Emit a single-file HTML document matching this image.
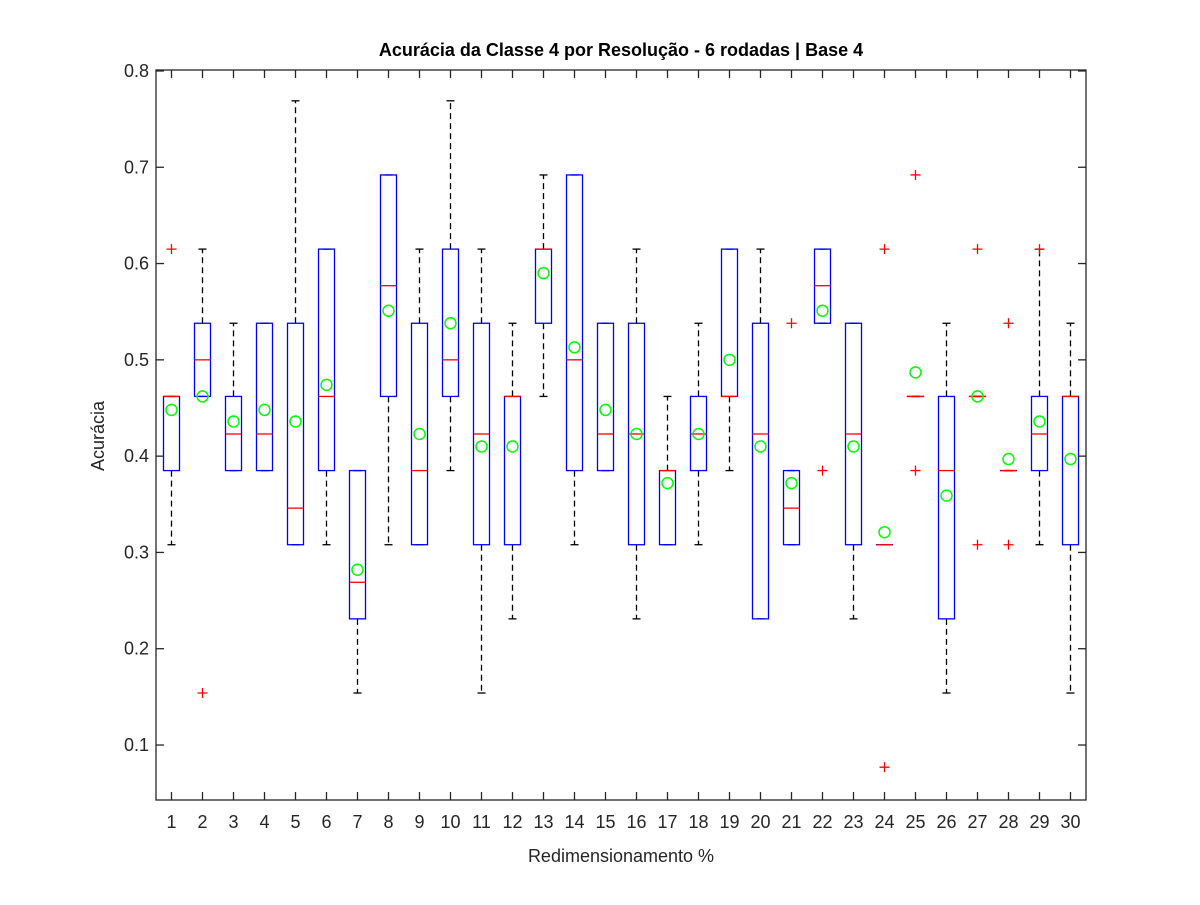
<!DOCTYPE html>
<html><head><meta charset="utf-8"><style>
body{margin:0;background:#fff;}
svg text{font-family:"Liberation Sans",Arial,sans-serif;}
</style></head><body>
<svg id="chart" width="1200" height="900" xmlns="http://www.w3.org/2000/svg">
<rect width="1200" height="900" fill="#fff"/>
<text x="621" y="56" font-size="18" font-weight="bold" text-anchor="middle" fill="#000">Acurácia da Classe 4 por Resolução - 6 rodadas | Base 4</text>
<text x="621" y="862" font-size="18" text-anchor="middle" fill="#262626">Redimensionamento %</text>
<text x="0" y="0" font-size="18" text-anchor="middle" fill="#262626" transform="translate(104,436) rotate(-90)">Acurácia</text>
<g id="marks"></g>
<g id="axes"></g>
</svg>
<script>
const categories=[1,2,3,4,5,6,7,8,9,10,11,12,13,14,15,16,17,18,19,20,21,22,23,24,25,26,27,28,29,30];
const q1=[.385,.462,.385,.385,.308,.385,.231,.462,.308,.462,.308,.308,.538,.385,.385,.308,.308,.385,.462,.231,.308,.538,.308,.308,.462,.231,.462,.385,.385,.308];
const q3=[.462,.538,.462,.538,.538,.615,.385,.692,.538,.615,.538,.462,.615,.692,.538,.538,.385,.462,.615,.538,.385,.615,.538,.308,.462,.462,.462,.385,.462,.462];
const medians=[.462,.5,.423,.423,.346,.462,.269,.577,.385,.5,.423,.462,.615,.5,.423,.423,.385,.423,.462,.423,.346,.577,.423,.308,.462,.385,.462,.385,.423,.462];
const whiskerLow=[.308,.462,.385,.385,.308,.308,.154,.308,.308,.385,.154,.231,.462,.308,.385,.231,.308,.308,.385,.231,.308,.538,.231,.308,.462,.154,.462,.385,.308,.154];
const whiskerHigh=[.462,.615,.538,.538,.769,.615,.385,.692,.615,.769,.615,.538,.692,.692,.538,.615,.462,.538,.615,.615,.385,.615,.538,.308,.462,.538,.462,.385,.615,.538];
const means=[.448,.462,.436,.448,.436,.474,.282,.551,.423,.538,.41,.41,.590,.513,.448,.423,.372,.423,.5,.41,.372,.551,.41,.321,.487,.359,.462,.397,.436,.397];
const outliers=[[.615],[.154],[],[],[],[],[],[],[],[],[],[],[],[],[],[],[],[],[],[],[.538],[.385],[],[.615,.077],[.692,.385],[],[.615,.308],[.538,.308],[.615],[]];
const yTicks=[0.1,0.2,0.3,0.4,0.5,0.6,0.7,0.8];
const L=156,R=1086,T=70,B=800,yMin=0.0429,yMax=0.801;
const xS=c=>L+(c-0.5)*(R-L)/30;
const yS=v=>B-(v-yMin)*(B-T)/(yMax-yMin);
const NS='http://www.w3.org/2000/svg';
const marks=document.getElementById('marks'),axes=document.getElementById('axes');
function mk(p,tag,at){const e=document.createElementNS(NS,tag);for(const k in at)e.setAttribute(k,at[k]);p.appendChild(e);return e;}
categories.forEach((c,i)=>{
  const x=xS(c),g=mk(marks,'g',{});
  
  
  const dash={stroke:'#000','stroke-width':1.3,'stroke-dasharray':'6,4'};
  if(whiskerHigh[i]>q3[i]){mk(g,'line',{x1:x,x2:x,y1:yS(q3[i]),y2:yS(whiskerHigh[i]),...dash});}
  if(whiskerLow[i]<q1[i]){mk(g,'line',{x1:x,x2:x,y1:yS(q1[i]),y2:yS(whiskerLow[i]),...dash});}
  mk(g,'line',{x1:x-4,x2:x+4,y1:yS(whiskerHigh[i]),y2:yS(whiskerHigh[i]),stroke:'#000','stroke-width':1.3});
  mk(g,'line',{x1:x-4,x2:x+4,y1:yS(whiskerLow[i]),y2:yS(whiskerLow[i]),stroke:'#000','stroke-width':1.3});
  mk(g,'rect',{x:x-8,y:yS(q3[i]),width:16,height:Math.max(0.01,yS(q1[i])-yS(q3[i])),fill:'none',stroke:'#0000ff','stroke-width':1.3});
  mk(g,'line',{x1:x-8,x2:x+8,y1:yS(medians[i]),y2:yS(medians[i]),stroke:'#ff0000','stroke-width':1.3});
  outliers[i].forEach(o=>{const y=yS(o);
    mk(g,'path',{d:`M${x-5},${y}H${x+5}M${x},${y-5}V${y+5}`,stroke:'#ff0000','stroke-width':1.3});});
  const m=mk(g,'circle',{cx:x,cy:yS(means[i]),r:5.5,fill:'none',stroke:'#00ff00','stroke-width':1.5});
  
  
});
mk(axes,'rect',{x:L,y:T,width:R-L,height:B-T,fill:'none',stroke:'#262626','stroke-width':1.3});
yTicks.forEach(v=>{const y=yS(v);
  mk(axes,'line',{x1:L,x2:L+8,y1:y,y2:y,stroke:'#262626','stroke-width':1.3});
  mk(axes,'line',{x1:R,x2:R-8,y1:y,y2:y,stroke:'#262626','stroke-width':1.3});
  const t=mk(axes,'text',{x:L-7,y:y+6,'font-size':18,'text-anchor':'end',fill:'#262626'});t.textContent=v.toFixed(1);
  
  
});
categories.forEach(c=>{const x=xS(c);
  mk(axes,'line',{x1:x,x2:x,y1:B,y2:B-8,stroke:'#262626','stroke-width':1.3});
  mk(axes,'line',{x1:x,x2:x,y1:T,y2:T+8,stroke:'#262626','stroke-width':1.3});
  const t=mk(axes,'text',{x:x,y:B+28,'font-size':18,'text-anchor':'middle',fill:'#262626'});t.textContent=c;
  
  
});
</script>
</body></html>
